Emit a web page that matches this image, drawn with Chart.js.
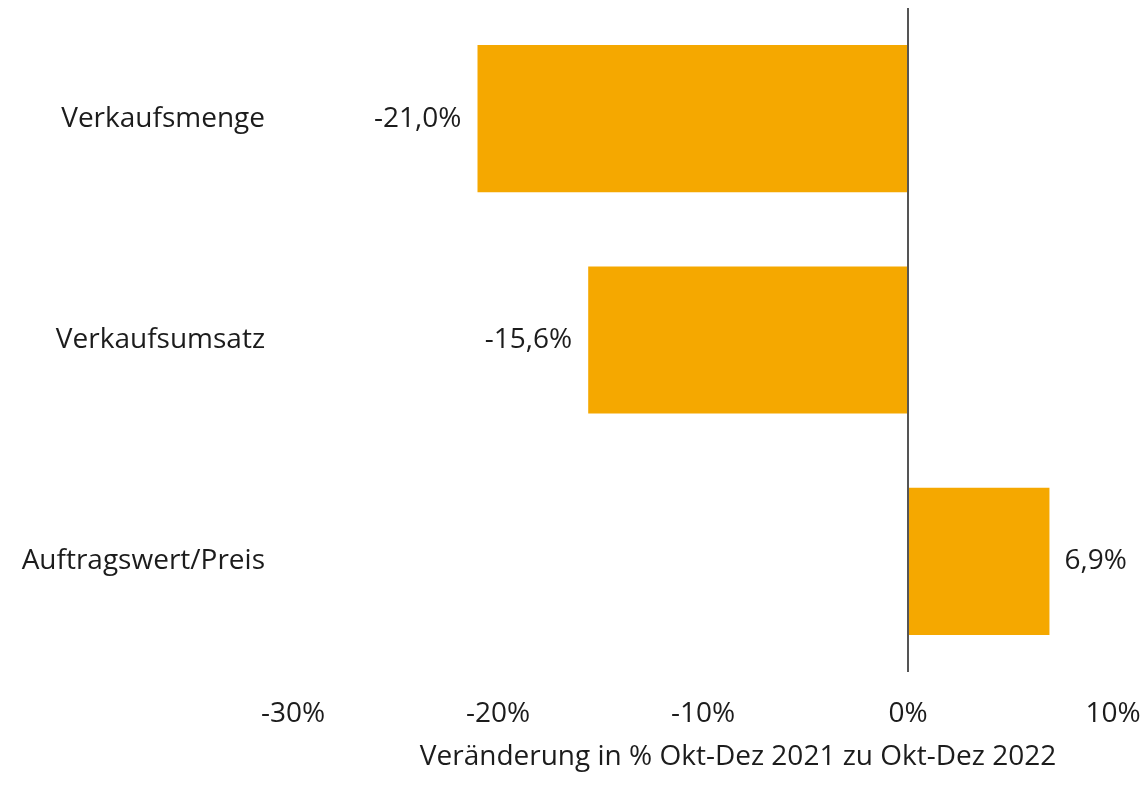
<!DOCTYPE html>
<html>
<head>
<meta charset="utf-8">
<script src="https://cdn.jsdelivr.net/npm/chart.js@4/dist/chart.umd.min.js"></script>
<style>
  html, body { margin: 0; padding: 0; background: #fff; }
  #wrap { width: 1148px; height: 803px; }
</style>
</head>
<body>
<div id="wrap"><canvas id="changeChart" width="1148" height="803"></canvas></div>
<script>
const categories = ["Verkaufsmenge", "Verkaufsumsatz", "Auftragswert/Preis"];
const changes = [-21.0, -15.6, 6.9]; // % Okt-Dez 2021 -> Okt-Dez 2022
const xTicks = [-30, -20, -10, 0, 10];
const axisCaption = "Veränderung in % Okt-Dez 2021 zu Okt-Dez 2022";

const BAR_COLOR = "#F5A800";
const TEXT_COLOR = "#1c1c1c";
const FONT = { family: "'Open Sans', 'Noto Sans', sans-serif", size: 28 };
const CAPTION_SHIFT = 35; // caption sits a bit right of the plot centre

function fmt(v) {
  return v.toFixed(1).replace(".", ",") + "%";
}

// no auto padding from tick labels, the layout padding below decides the area
function noScalePadding(s) {
  s.paddingTop = 0;
  s.paddingBottom = 0;
  s.paddingLeft = 0;
  s.paddingRight = 0;
}

// value labels just outside the bar ends
const barLabels = {
  id: "barLabels",
  afterLayout(chart) {
    const xs = chart.scales.x;
    if (xs._shifted) return;
    const orig = xs.drawTitle;
    xs.drawTitle = function () {
      this.ctx.save();
      this.ctx.translate(CAPTION_SHIFT, 0);
      orig.call(this);
      this.ctx.restore();
    };
    xs._shifted = true;
  },
  afterDatasetsDraw(chart) {
    const c = chart.ctx;
    const meta = chart.getDatasetMeta(0);
    c.save();
    c.font = FONT.size + "px " + FONT.family;
    c.fillStyle = TEXT_COLOR;
    c.textBaseline = "middle";
    meta.data.forEach((bar, i) => {
      const v = changes[i];
      if (v < 0) {
        c.textAlign = "right";
        c.fillText(fmt(v), bar.x - 16, bar.y);
      } else {
        c.textAlign = "left";
        c.fillText(fmt(v), bar.x + 15, bar.y);
      }
    });
    c.restore();
  },
};

new Chart(document.getElementById("changeChart"), {
  type: "bar",
  data: {
    labels: categories,
    datasets: [
      {
        data: changes,
        backgroundColor: BAR_COLOR,
        barPercentage: 0.665,
        categoryPercentage: 1.0,
      },
    ],
  },
  options: {
    indexAxis: "y",
    responsive: false,
    animation: false,
    layout: { padding: { left: 18, right: 35, top: 8, bottom: 22 } },
    plugins: { legend: { display: false }, tooltip: { enabled: false } },
    scales: {
      x: {
        min: -30,
        max: 10,
        afterBuildTicks: (s) => { s.ticks = xTicks.map((v) => ({ value: v })); },
        ticks: {
          color: TEXT_COLOR,
          font: FONT,
          padding: 25,
          callback: (v) => v + "%",
          maxRotation: 0,
        },
        border: { display: false },
        grid: {
          drawTicks: false,
          lineWidth: 2,
          color: (ctx) => (ctx.tick && ctx.tick.value === 0 ? "#555555" : "rgba(0,0,0,0)"),
        },
        title: {
          display: true,
          text: axisCaption,
          color: TEXT_COLOR,
          font: FONT,
          padding: { top: 18, bottom: 7 },
        },
        afterFit: (s) => {
          s.height = 803 - 672 - 22;
          noScalePadding(s);
        },
      },
      y: {
        ticks: { color: TEXT_COLOR, font: FONT, padding: 20 },
        grid: { display: false },
        border: { display: false },
        afterFit: (s) => {
          s.width = 293 - 18;
          noScalePadding(s);
        },
      },
    },
  },
  plugins: [barLabels],
});
</script>
</body>
</html>
